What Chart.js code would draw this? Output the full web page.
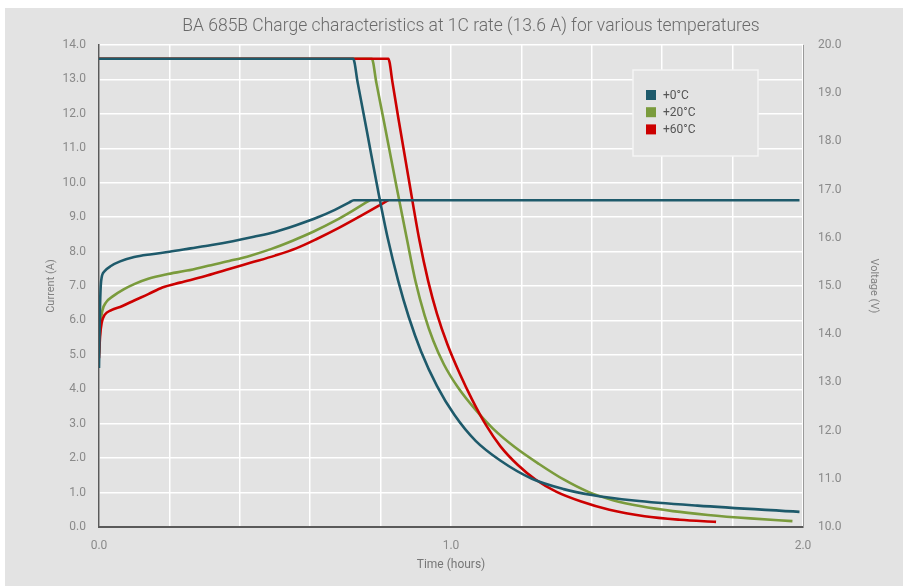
<!DOCTYPE html>
<html>
<head>
<meta charset="utf-8">
<title>BA 685B charge characteristics</title>
<script src="https://cdn.jsdelivr.net/npm/chart.js@4.4.0/dist/chart.umd.min.js"></script>
<style>
    html, body { margin: 0; padding: 0; background: #ffffff; }
    #painel { position: absolute; left: 5px; top: 8px; width: 898px; height: 578px; background: #e3e3e3; }
</style>
</head>
<body>
<div id="painel"><canvas id="grafico"></canvas></div>
<script>

// current (A) vs time (hours)
const tempoCorrente0 = [0, 0.722, 0.735, 0.76, 0.795, 0.82, 0.85, 0.88, 0.915, 0.96, 1.01, 1.07, 1.14, 1.23, 1.32, 1.40, 1.52, 1.70, 1.99];
const corrente0 = [13.6, 13.6, 12.9, 11.55, 9.65, 8.4, 7.15, 6.1, 5.1, 4.1, 3.25, 2.5, 1.93, 1.4, 1.1, 0.93, 0.77, 0.62, 0.44];

const tempoCorrente20 = [0, 0.775, 0.788, 0.81, 0.845, 0.874, 0.90, 0.925, 0.95, 0.98, 1.02, 1.07, 1.12, 1.18, 1.25, 1.32, 1.39, 1.46, 1.54, 1.63, 1.73, 1.85, 1.97];
const corrente20 = [13.6, 13.6, 12.9, 11.75, 9.9, 8.4, 7.1, 6.15, 5.4, 4.72, 4.05, 3.4, 2.85, 2.33, 1.83, 1.38, 1.02, 0.78, 0.6, 0.46, 0.35, 0.25, 0.17];

const tempoCorrente60 = [0, 0.822, 0.834, 0.85, 0.88, 0.91, 0.935, 0.96, 0.99, 1.025, 1.06, 1.10, 1.14, 1.19, 1.24, 1.30, 1.37, 1.45, 1.55, 1.65, 1.753];
const corrente60 = [13.6, 13.6, 12.9, 11.9, 10.1, 8.34, 7.15, 6.2, 5.3, 4.45, 3.7, 2.95, 2.35, 1.8, 1.38, 1.02, 0.74, 0.5, 0.31, 0.21, 0.15];

// voltage (V) vs time (hours)
const tempoTensao0 = [0, 0.003, 0.006, 0.015, 0.035, 0.06, 0.1, 0.15, 0.2, 0.26, 0.32, 0.38, 0.44, 0.5, 0.56, 0.62, 0.67, 0.71, 0.724, 1.99];
const tensao0 = [13.3, 14.6, 15.1, 15.3, 15.42, 15.51, 15.6, 15.66, 15.71, 15.78, 15.85, 15.93, 16.02, 16.12, 16.26, 16.42, 16.58, 16.73, 16.78, 16.78];

const tempoTensao20 = [0, 0.004, 0.01, 0.02, 0.04, 0.07, 0.1, 0.14, 0.19, 0.25, 0.31, 0.37, 0.43, 0.49, 0.55, 0.61, 0.67, 0.72, 0.76, 0.77];
const tensao20 = [13.6, 14.2, 14.5, 14.66, 14.79, 14.93, 15.04, 15.15, 15.24, 15.32, 15.42, 15.52, 15.63, 15.77, 15.94, 16.13, 16.35, 16.56, 16.74, 16.78];

const tempoTensao60 = [0, 0.003, 0.008, 0.016, 0.035, 0.065, 0.1, 0.14, 0.18, 0.23, 0.3, 0.36, 0.43, 0.5, 0.56, 0.62, 0.68, 0.75, 0.81, 0.822];
const tensao60 = [13.5, 13.95, 14.25, 14.4, 14.5, 14.58, 14.7, 14.83, 14.97, 15.07, 15.2, 15.33, 15.48, 15.63, 15.78, 15.98, 16.2, 16.48, 16.73, 16.78];

const temperaturas = ["+0°C", "+20°C", "+60°C"];
const cores = ["#1e5a6b", "#7a9b3c", "#cc0000"];

const titulo = "BA 685B Charge characteristics at 1C rate (13.6 A) for various temperatures";

function pontos(xs, ys) {
    return xs.map(function (x, i) { return { x: x, y: ys[i] }; });
}

function serie(rotulo, cor, xs, ys, eixo) {
    return {
        label: rotulo,
        data: pontos(xs, ys),
        yAxisID: eixo,
        borderColor: cor,
        backgroundColor: cor,
        borderWidth: 2.6,
        pointRadius: 0,
        fill: false,
        cubicInterpolationMode: "monotone"
    };
}

const fonte = "Roboto, 'DejaVu Sans', sans-serif";
Chart.defaults.font.family = fonte;

// title and the boxed legend
const extras = {
    id: "extras",
    afterDraw: function (chart) {
        const ctx = chart.ctx;
        ctx.save();

        ctx.fillStyle = "#6a6a6a";
        ctx.font = "300 17.5px " + fonte;
        ctx.textAlign = "center";
        ctx.textBaseline = "middle";
        ctx.fillText(titulo, 466, 19);

        ctx.fillStyle = "#e3e3e3";
        ctx.fillRect(628, 62, 125, 86);
        ctx.strokeStyle = "#f5f5f5";
        ctx.lineWidth = 1.5;
        ctx.strokeRect(628, 62, 125, 86);

        ctx.font = "12px " + fonte;
        ctx.textAlign = "left";
        for (let i = 0; i < temperaturas.length; i++) {
            const yy = 87 + i * 17.2;
            ctx.fillStyle = cores[i];
            ctx.fillRect(641, yy - 5, 10, 10);
            ctx.fillStyle = "#555555";
            ctx.fillText(temperaturas[i], 658, yy + 1);
        }
        ctx.restore();
    }
};

const canvas = document.getElementById("grafico");

new Chart(canvas, {
    type: "line",
    data: {
        datasets: [
            serie(temperaturas[0], cores[0], tempoCorrente0, corrente0, "y"),
            serie(temperaturas[0], cores[0], tempoTensao0, tensao0, "y1"),
            serie(temperaturas[2], cores[2], tempoCorrente60, corrente60, "y"),
            serie(temperaturas[2], cores[2], tempoTensao60, tensao60, "y1"),
            serie(temperaturas[1], cores[1], tempoCorrente20, corrente20, "y"),
            serie(temperaturas[1], cores[1], tempoTensao20, tensao20, "y1")
        ]
    },
    options: {
        responsive: true,
        maintainAspectRatio: false,
        animation: false,
        layout: { padding: { top: 37, left: 0, right: 0, bottom: 0 } },
        plugins: {
            legend: { display: false },
            title: { display: false },
            tooltip: { enabled: false }
        },
        scales: {
            x: {
                type: "linear",
                min: 0,
                max: 2,
                ticks: {
                    stepSize: 0.2,
                    autoSkip: false,
                    maxRotation: 0,
                    padding: 12,
                    color: "#8a8a8a",
                    font: { size: 12 },
                    callback: function (v) {
                        return Math.abs(v - Math.round(v)) < 1e-6 ? v.toFixed(1) : "";
                    }
                },
                grid: { color: "#ffffff", lineWidth: 1.5, drawTicks: false },
                border: { color: "#5a5a5a", width: 2 },
                title: {
                    display: true,
                    text: "Time (hours)",
                    color: "#777777",
                    font: { size: 12 },
                    padding: { top: 0, bottom: 14 }
                },
                afterFit: function (s) { s.height = 59; }
            },
            y: {
                position: "left",
                min: 0,
                max: 14,
                ticks: {
                    stepSize: 1,
                    padding: 13,
                    color: "#8a8a8a",
                    font: { size: 12 },
                    callback: function (v) { return v.toFixed(1); }
                },
                grid: { color: "#ffffff", lineWidth: 1.5, drawTicks: false },
                border: { color: "#5a5a5a", width: 1.5 },
                title: {
                    display: true,
                    text: "Current (A)",
                    color: "#808080",
                    font: { size: 11 },
                    padding: { top: 40, bottom: 0 }
                },
                afterFit: function (s) { s.width = 94; }
            },
            y1: {
                position: "right",
                min: 10,
                max: 20,
                ticks: {
                    stepSize: 1,
                    padding: 15,
                    color: "#8a8a8a",
                    font: { size: 12 },
                    callback: function (v) { return v.toFixed(1); }
                },
                grid: { display: false, drawTicks: false },
                border: { color: "#9a9a9a", width: 1 },
                title: {
                    display: true,
                    text: "Voltage (V)",
                    color: "#808080",
                    font: { size: 11 },
                    padding: { top: 23, bottom: 0 }
                },
                afterFit: function (s) { s.width = 100; }
            }
        }
    },
    plugins: [extras]
});

</script>
</body>
</html>
